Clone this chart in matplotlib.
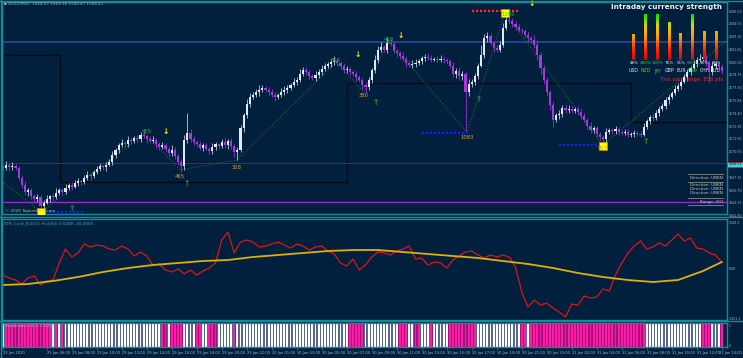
import numpy as np
import matplotlib.pyplot as plt
from matplotlib.colors import LinearSegmentedColormap
from matplotlib.transforms import blended_transform_factory, ScaledTranslation

W, H = 743, 358
BG = '#01203e'
TEAL = '#148c98'
AXTXT = '#a9b7c6'
BULL, BULL_W = '#e2e8f6', '#a4b0cc'
BEAR, BEAR_W = '#a838e0', '#8430b8'

# ---- price data (GOLD M15), bar index = position on chart
first_open = 1568.3
closes = [1568.2, 1568.6, 1568.3, 1568.4, 1568.2, 1567.1, 1566.3, 1565.5, 1565.7, 1565.0,
          1564.7, 1564.9, 1563.9, 1564.3, 1564.7, 1565.0, 1564.9, 1565.4, 1565.7, 1565.5,
          1566.0, 1566.3, 1566.1, 1566.5, 1566.7, 1566.6, 1567.1, 1567.4, 1567.3, 1567.8,
          1568.1, 1568.4, 1568.3, 1568.6, 1568.9, 1569.7, 1570.3, 1570.8, 1571.0, 1570.9,
          1571.4, 1571.3, 1571.6, 1571.5, 1572.0, 1571.8, 1571.5, 1571.3, 1571.4, 1570.9,
          1570.6, 1570.8, 1570.4, 1569.9, 1570.3, 1569.6, 1568.9, 1568.4, 1571.4, 1572.2,
          1571.5, 1571.2, 1570.9, 1570.5, 1570.8, 1570.4, 1570.1, 1570.6, 1570.9, 1570.7,
          1571.2, 1570.8, 1571.3, 1570.7, 1570.0, 1570.3, 1572.7, 1574.2, 1575.5, 1576.3,
          1576.5, 1576.8, 1577.1, 1577.3, 1577.1, 1576.8, 1576.5, 1576.3, 1576.5, 1576.8,
          1577.1, 1577.3, 1577.6, 1578.0, 1578.2, 1578.9, 1579.3, 1579.1, 1578.6, 1578.4,
          1578.8, 1579.1, 1579.4, 1579.8, 1580.0, 1580.2, 1580.3, 1580.1, 1579.8, 1579.3,
          1579.4, 1579.1, 1578.9, 1578.5, 1578.2, 1577.6, 1577.4, 1578.2, 1579.3, 1580.5,
          1581.6, 1581.9, 1581.6, 1582.4, 1582.3, 1581.5, 1581.2, 1580.9, 1580.6, 1580.1,
          1579.9, 1580.0, 1580.1, 1580.3, 1580.7, 1580.8, 1580.7, 1580.5, 1580.6, 1580.5,
          1580.6, 1580.5, 1580.3, 1579.8, 1578.9, 1579.2, 1578.6, 1578.9, 1576.8, 1577.7,
          1578.0, 1578.6, 1579.8, 1581.0, 1582.9, 1583.2, 1582.4, 1581.8, 1581.6, 1582.2,
          1584.1, 1585.0, 1584.9, 1584.5, 1584.2, 1583.9, 1583.7, 1583.3, 1582.9, 1582.7,
          1582.2, 1581.0, 1579.5, 1578.2, 1576.8, 1575.4, 1573.7, 1574.2, 1574.3, 1575.0,
          1574.8, 1574.9, 1574.7, 1574.9, 1574.6, 1574.1, 1573.7, 1573.0, 1572.5, 1572.7,
          1572.1, 1571.7, 1571.5, 1572.3, 1572.5, 1572.4, 1572.6, 1572.3, 1572.2, 1572.3,
          1572.0, 1572.1, 1572.2, 1572.1, 1572.0, 1572.9, 1573.5, 1574.0, 1573.9, 1574.4,
          1574.9, 1575.2, 1575.9, 1576.3, 1576.7, 1577.2, 1577.5, 1578.0, 1578.5, 1579.1,
          1579.5, 1580.0, 1580.5, 1580.6, 1580.8, 1580.2, 1579.1, 1579.8, 1580.0, 1579.7,
          1579.2]
# wick lengths in tenths of a dollar
wick_up = [3, 4, 2, 5, 3, 2, 3, 4, 3, 2, 3, 4, 2, 3, 4, 2, 3, 5, 2, 3,
           4, 2, 3, 3, 4, 2, 3, 5, 3, 2, 3, 4, 2, 3, 3, 4, 2, 3, 5, 3,
           4, 3, 2, 4, 3, 5, 2, 3, 4, 2, 3, 4, 3, 2, 5, 3, 2, 3, 6, 22,
           4, 3, 2, 4, 3, 3, 2, 4, 3, 2, 3, 4, 2, 3, 2, 3, 4, 3, 5, 4,
           3, 4, 5, 3, 2, 3, 4, 3, 2, 5, 4, 3, 2, 4, 3, 5, 4, 3, 2, 3,
           4, 3, 5, 3, 2, 4, 6, 3, 2, 3, 4, 3, 2, 3, 3, 2, 4, 3, 2, 5,
           4, 6, 3, 5, 4, 3, 2, 3, 4, 3, 3, 4, 5, 3, 2, 3, 4, 3, 2, 3,
           4, 3, 2, 3, 4, 3, 5, 3, 2, 6, 3, 4, 3, 12, 5, 4, 3, 2, 3, 4,
           5, 11, 6, 3, 4, 3, 2, 3, 4, 3, 6, 5, 4, 3, 3, 2, 4, 3, 5, 4,
           3, 4, 3, 2, 3, 4, 3, 2, 4, 3, 3, 2, 3, 4, 3, 3, 4, 3, 2, 3,
           3, 2, 3, 2, 3, 4, 3, 2, 3, 4, 3, 4, 3, 3, 2, 4, 3, 3, 4, 3,
           3, 4, 3, 5, 4, 3, 2, 4, 3, 3, 3]
wick_dn = [3, 2, 4, 3, 2, 3, 4, 3, 5, 3, 4, 3, 6, 3, 2, 3, 4, 2, 3, 3,
           2, 3, 4, 2, 3, 3, 2, 3, 4, 2, 3, 2, 3, 4, 2, 3, 3, 4, 2, 3,
           3, 4, 2, 3, 3, 2, 4, 3, 3, 4, 3, 2, 4, 3, 3, 4, 3, 6, 4, 3,
           3, 4, 3, 3, 4, 2, 3, 3, 4, 3, 2, 3, 4, 3, 5, 9, 3, 4, 3, 4,
           3, 2, 4, 3, 3, 4, 3, 5, 3, 2, 3, 4, 3, 2, 4, 3, 3, 4, 3, 2,
           3, 4, 3, 2, 3, 4, 3, 3, 4, 3, 3, 4, 3, 4, 3, 6, 7, 3, 4, 3,
           4, 3, 3, 4, 3, 3, 4, 3, 3, 4, 3, 4, 3, 2, 3, 4, 3, 3, 2, 3,
           3, 4, 3, 3, 4, 5, 3, 4, 45, 4, 3, 4, 3, 2, 3, 4, 3, 4, 3, 3,
           3, 2, 3, 3, 4, 3, 2, 3, 4, 3, 4, 5, 6, 5, 4, 6, 8, 3, 4, 3,
           3, 4, 3, 3, 4, 3, 3, 4, 3, 3, 4, 3, 7, 3, 2, 3, 3, 4, 3, 2,
           3, 3, 4, 3, 3, 2, 3, 3, 4, 3, 3, 2, 3, 4, 3, 2, 3, 3, 2, 4,
           3, 2, 3, 3, 3, 4, 12, 3, 4, 3, 3]

# horizontal levels and previous-range step line
level_blue, level_red, level_purple = 1582.49, 1568.78, 1564.36
step_bars = [-1, 18.2, 110, 201, 232]
step_levels = [1581.0, 1566.6, 1577.8, 1573.4, 1573.4]

# zigzag swings
zz_bars = [-1, 12.2, 45.4, 56.6, 74.9, 106.6, 115.5, 123.5, 148.5, 160.6, 192.0, 231.7]
zz_prices = [1566.9, 1563.2, 1572.2, 1568.0, 1569.1, 1580.2, 1576.8, 1582.7, 1572.2, 1585.8, 1570.8, 1582.7]

swing_lbl = ['455', '465', '328', '856', '380', '458', '1083', '1192', '957']
swing_bar = [46.1, 56.6, 74.9, 106.6, 115.5, 123.5, 148.5, 161.6, 192.0]
swing_px = [1572.3, 1567.3, 1568.3, 1580.4, 1576.4, 1582.8, 1571.7, 1585.6, 1570.4]
swing_col = ['#2fb53a', '#e0a030', '#e0a030', '#2fb53a', '#e0a030', '#2fb53a', '#e0a030', '#2fb53a', '#e0a030']

sq_bars = [12.2, 160.6, 192.0]
sq_prices = [1563.2, 1585.8, 1570.7]
dn_bars = [52.2, 113.6, 127.4, 169.3]
dn_prices = [1572.4, 1581.1, 1583.2, 1586.9]
up_bars = [22.1, 58.9, 119.4, 152.3, 205.8]
up_prices = [1563.6, 1566.5, 1575.6, 1576.0, 1571.2]
blue_lv = [(12.2, 26.2, 1563.2), (134.0, 148.5, 1572.2), (178.0, 192.0, 1570.8)]
red_lv = [(150.0, 165.5, 1586.0)]

# oscillator (every 2nd bar) and its moving average (every 8th bar)
osc = [-175, -250, -300, -400, -250, -200, -425, -325, -300, 125, 475, 275, 375, 600, 525, 575,
       550, 475, 450, 550, 475, 300, 400, 300, 75, 100, -50, -100, -25, -150, -50, -175,
       -75, 0, 125, 700, 900, 375, 650, 700, 650, 525, 550, 600, 650, 575, 500, 600,
       550, 450, 525, 550, 425, 350, 125, 50, 225, -50, 75, 275, 400, 375, 325, 425,
       475, 550, 225, 250, 75, 150, 125, 0, 200, 300, 400, 425, 325, 250, 325, 275,
       325, 275, 25, -600, -975, -800, -925, -875, -1000, -1100, -1225, -900, -925, -700, -750, -725,
       -525, -575, -175, 125, 375, 550, 675, 475, 525, 625, 550, 700, 850, 675, 750, 500,
       475, 375, 325, 150]
ma = [-425, -400, -325, -225, -100, 0, 75, 125, 175, 200, 275, 325, 375, 425, 450, 450,
      400, 350, 300, 250, 175, 100, 0, -125, -225, -300, -350, -300, -75, 150]
ma_bars = list(range(0, 225, 8)) + [230]

# trend histogram: bars coloured magenta
magenta_bars = (list(range(1, 16)) + [17, 19, 51, 52, 54, 55, 56, 57, 62, 63, 66, 67, 68, 74]
                + list(range(111, 116)) + [127, 128, 129, 132, 133, 137] + list(range(143, 152))
                + [166, 167] + list(range(169, 206)) + [224, 225, 226, 230])

tick_bars = [0, 14, 22, 30, 38, 46, 54, 62, 70, 78, 86, 94, 102, 110, 118, 126, 134, 142,
             150, 158, 166, 174, 182, 190, 198, 206, 214, 222, 230]
tick_text = ['29 Jan 2020', '29 Jan 06:00', '29 Jan 08:00', '29 Jan 10:00',
             '29 Jan 12:00', '29 Jan 14:00', '29 Jan 16:00', '29 Jan 18:00', '29 Jan 20:00',
             '29 Jan 22:00', '30 Jan 01:00', '30 Jan 03:00', '30 Jan 05:00', '30 Jan 07:00',
             '30 Jan 09:00', '30 Jan 11:00', '30 Jan 13:00', '30 Jan 15:00', '30 Jan 17:00',
             '30 Jan 19:00', '30 Jan 21:00', '30 Jan 23:00', '31 Jan 02:00', '31 Jan 04:00',
             '31 Jan 06:00', '31 Jan 08:00', '31 Jan 10:00', '31 Jan 12:00', '31 Jan 14:00']

currencies = ['USD', 'NZD', 'JPY', 'GBP', 'EUR', 'CAD', 'CHF', 'AUD']
strength = [0.57, 1.0, 1.0, 0.82, 0.59, 1.0, 0.64, 0.64]
strength_pct = ['48%', '300%', '120%', '76%', '51%', '500%', '15%', '85%']
strong = [False, True, True, False, False, True, False, False]

fig = plt.figure(figsize=(W / 100, H / 100), dpi=100, facecolor=BG)


def px_axes(x0, y0, x1, y1):
    a = fig.add_axes([x0 / W, 1 - y1 / H, (x1 - x0) / W, (y1 - y0) / H])
    a.set_facecolor(BG)
    for s in a.spines.values():
        s.set_color(TEAL)
        s.set_linewidth(1.0)
    return a


def ftext(x, y, s, **kw):
    kw.setdefault('fontsize', 3.0)
    kw.setdefault('va', 'center')
    fig.text(x / W, 1 - y / H, s, **kw)


def right_ticks(a):
    a.yaxis.tick_right()
    a.tick_params(axis='y', colors=TEAL, labelcolor=AXTXT, labelsize=2.35,
                  length=1.0, width=0.5, pad=0.3)


XL = (-0.32, 231.68)

# ---------------- main price panel
ax = px_axes(2, 2, 727, 214)
ax.set_xlim(*XL)
ax.set_ylim(1563.0, 1587.02)

closes = np.array(closes)
n = len(closes)
bars = np.arange(n)
opens = np.r_[first_open, closes[:-1]]
highs = np.maximum(opens, closes) + np.array(wick_up) / 10
lows = np.minimum(opens, closes) - np.array(wick_dn) / 10
up = closes >= opens

ax.step(step_bars, step_levels, where='post', color='#040912', lw=1.0, zorder=1)
ax.axhline(level_blue, color='#24418f', lw=1.4, zorder=1)
ax.axhline(level_red, color='#7d1a22', lw=0.8, zorder=1)
ax.axhline(level_purple, color='#9a2ad0', lw=1.0, zorder=1)
ax.plot(zz_bars, zz_prices, color='#1d7a3a', lw=0.6, ls=(0, (1.5, 2)), zorder=2)

ax.vlines(bars[up], lows[up], highs[up], color=BULL_W, lw=0.7, zorder=3)
ax.vlines(bars[~up], lows[~up], highs[~up], color=BEAR_W, lw=0.7, zorder=3)
body = np.maximum(np.abs(closes - opens), 0.08)
bottom = np.minimum(opens, closes)
ax.bar(bars[up], body[up], bottom=bottom[up], width=0.66, color=BULL, zorder=4)
ax.bar(bars[~up], body[~up], bottom=bottom[~up], width=0.66, color=BEAR, zorder=4)

for b0, b1, p in blue_lv:
    ax.plot([b0, b1], [p, p], color='#1a1aff', lw=1.6, ls=(0, (1, 0.8)), zorder=5)
for b0, b1, p in red_lv:
    ax.plot([b0, b1], [p, p], color='#ff2a2a', lw=1.6, ls=(0, (1, 0.8)), zorder=5)
ax.scatter(sq_bars, sq_prices, marker='s', s=28, color='#ffff00', edgecolor='#c89000',
           linewidth=0.5, zorder=6)
for b, p in zip(dn_bars, dn_prices):
    ax.text(b, p, '\u2193', color='#ffef00', fontsize=5.5, fontweight='bold',
            ha='center', va='center', zorder=6)
for b, p in zip(up_bars, up_prices):
    ax.text(b, p, '\u2191', color='#1f9e2c', fontsize=5.5, fontweight='bold',
            ha='center', va='center', zorder=6)
for t, b, p, c in zip(swing_lbl, swing_bar, swing_px, swing_col):
    ax.text(b, p, t, color=c, fontsize=3.8, ha='center', va='center', zorder=6)

ticks = [1586.00 - 1.45 * k for k in range(16) if k != 12]
right_ticks(ax)
ax.set_yticks(ticks)
ax.set_yticklabels(['%.2f' % t for t in ticks])
ax.set_xticks([])
tr = blended_transform_factory(ax.transAxes, ax.transData)
ax.text(1.002, 1568.61, '1568.61', transform=tr, fontsize=2.35, color='#06202a', va='center',
        ha='left', bbox=dict(boxstyle='square,pad=0.3', fc='#3fd0dc', ec='#e02020', lw=0.5))

# ---------------- oscillator panel
ax2 = px_axes(2, 219, 727, 320)
ax2.set_xlim(*XL)
ax2.set_ylim(-1300, 1225)
ax2.plot(range(0, 2 * len(osc), 2), osc, color='#e01414', lw=0.9)
ax2.plot(ma_bars, ma, color='#e0b000', lw=1.3)
right_ticks(ax2)
ax2.set_yticks([1149.1, 0, -1251.1])
ax2.set_yticklabels(['1149.1', '0.00', '-1251.1'])
ax2.set_xticks([])

# ---------------- trend histogram panel
ax3 = px_axes(2, 323, 727, 347)
ax3.set_xlim(*XL)
ax3.set_ylim(0, 1)
is_mag = np.isin(bars, magenta_bars)
ax3.bar(bars, 1, width=1.0, color=np.where(is_mag, '#a3127a', '#56698c'))
ax3.bar(bars, 1, width=0.62, color=np.where(is_mag, '#ff1aa6', '#ffffff'))
right_ticks(ax3)
ax3.set_yticks([0.05, 0.9])
ax3.set_yticklabels(['0', '1'])
ax3.set_xticks(tick_bars)
ax3.set_xticklabels(tick_text, ha='left')
ax3.tick_params(axis='x', colors=TEAL, labelcolor=AXTXT, labelsize=2.6, length=2, width=0.5, pad=1)
last = ax3.get_xticklabels()[-1]
last.set_transform(last.get_transform() + ScaledTranslation(-3 / 100, 0, fig.dpi_scale_trans))

# ---------------- currency strength widget
axw = fig.add_axes([628 / W, 1 - 60 / H, 94 / W, 46 / H])
axw.set_xlim(0, 8)
axw.set_ylim(0, 1)
axw.axis('off')
cmap = LinearSegmentedColormap.from_list('str', ['#e00000', '#ff3000', '#ff9a00', '#e8d000', '#00e000'])
edges = np.linspace(0, 1, 31)
for k, h in enumerate(strength):
    for e0, e1 in zip(edges[:-1], edges[1:]):
        if e0 >= h:
            break
        axw.bar(k + 0.5, min(e1, h) - e0, bottom=e0, width=0.27, color=cmap((e0 + e1) / 2), lw=0)

ftext(722, 7, 'Intraday currency strength', fontsize=5.2, fontweight='bold', color='#f0f0f0', ha='right')
for k in range(8):
    xc = 628 + 11.75 * (k + 0.5)
    col = '#20e020' if strong[k] else '#e8e8e8'
    ftext(xc, 63, strength_pct[k], color=col, ha='center', fontsize=3.0)
    ftext(xc, 71, currencies[k], color=col, ha='center', fontsize=3.3)
ftext(723, 79, 'This pair range: 856 pts', color='#ff2020', ha='right', fontsize=3.8)

# ---------------- misc texts
ftext(4, 4, '\u25aa GOLD,M15  1568.57 1569.38 1568.47 1568.61', color=AXTXT)
ftext(5, 211, '\u00a9 2020 TopLessons.com', color='#c8c08a')
ftext(4, 223, 'STR_Conf_ECD(1) Hist(50) 0.0000 -30.0000', color='#3cb4c8')
ftext(4, 326, 'TrendIndex(13,3) 1.0000', color='#b0b0d0')
ftext(742, 216, '1562.80', color=AXTXT, ha='right', fontsize=2.35)
for y in (174, 182, 198, 205):
    fig.add_artist(plt.Line2D([688 / W, 723 / W], [1 - y / H, 1 - y / H], color='#8a8a8a', lw=0.6))
ftext(723, 178, 'Direction: UNKN', color='#c8c4a8', ha='right')
for y in (185, 189, 193):
    ftext(723, y, 'Direction: UNKN', color='#c8c4a8', ha='right')
ftext(723, 202, 'Range: 601', color='#c8c4a8', ha='right')

# outer frame lines
for y in (1, 217, 321):
    fig.add_artist(plt.Line2D([0, 1], [1 - y / H, 1 - y / H], color=TEAL, lw=1.0))
fig.add_artist(plt.Line2D([1 / W, 1 / W], [0, 1], color=TEAL, lw=1.0))

fig.savefig('out.png', dpi=100, facecolor=BG)
